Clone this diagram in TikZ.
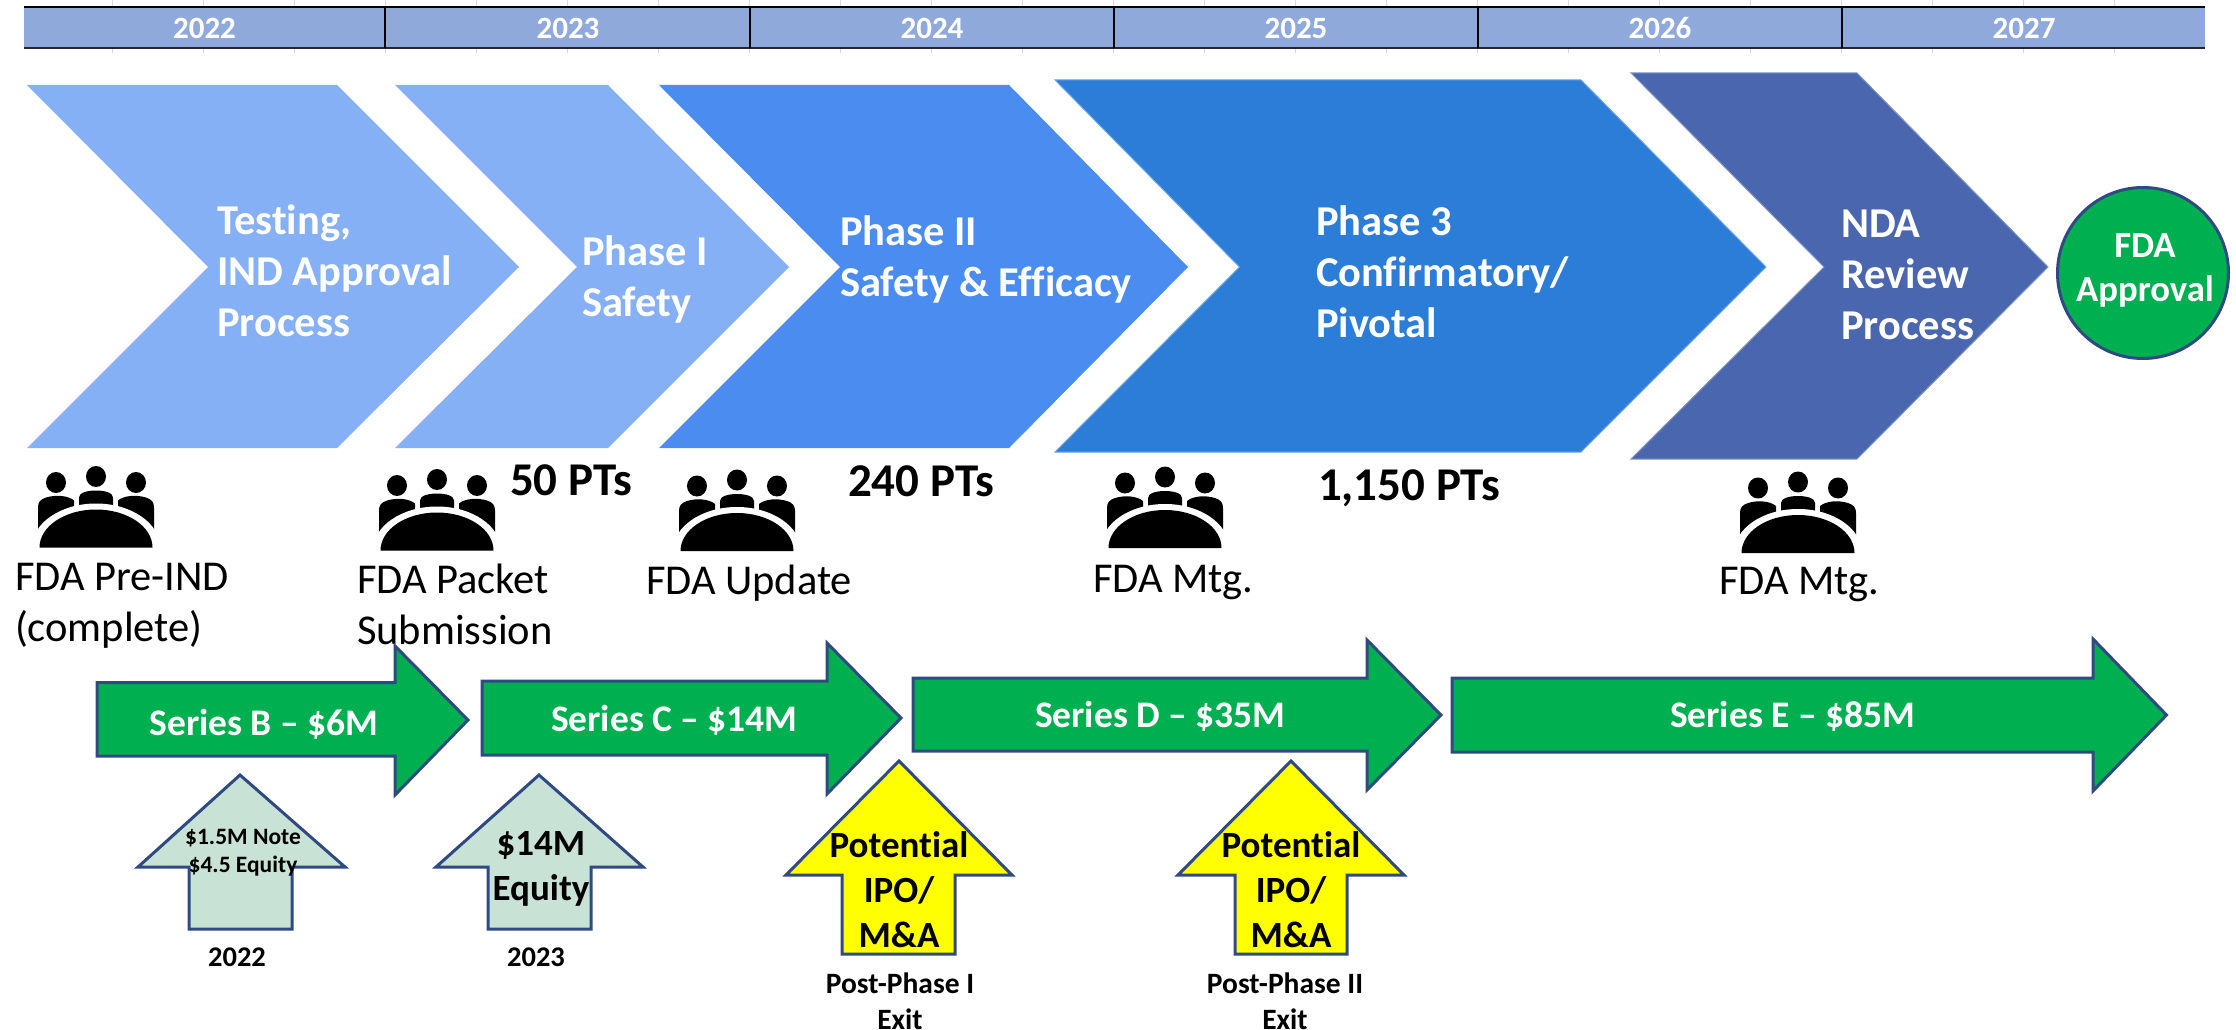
\documentclass[tikz,border=0pt]{standalone}
\usepackage{fontspec}
\usetikzlibrary{shapes.geometric}
\setmainfont[Ligatures=NoCommon]{Carlito}
\definecolor{bandc}{HTML}{8FA9DB}
\definecolor{chA}{HTML}{85B0F5}
\definecolor{chB}{HTML}{4A8CF0}
\definecolor{chC}{HTML}{2B7DD8}
\definecolor{chD}{HTML}{4A66AE}
\definecolor{grn}{HTML}{00B050}
\definecolor{edge}{HTML}{2F4A82}
\definecolor{pale}{HTML}{C9E2D6}
\definecolor{tick}{HTML}{D9D9D9}
\definecolor{yel}{HTML}{FFFF00}
\newcommand{\fs}[2]{\fontsize{#1}{#2}\selectfont}
\tikzset{
  every node/.style={inner sep=0pt,outer sep=0pt},
  yearlbl/.style={anchor=base,text=white,font=\bfseries\fs{31}{36}},
  chevlbl/.style={anchor=base west,text=white,align=left,font=\bfseries\fs{42.5}{51}},
  ptslbl/.style={anchor=base west,font=\bfseries\fs{47}{52}},
  fdalbl/.style={anchor=base west,align=left,font=\fs{42.5}{51}},
  serieslbl/.style={anchor=base west,text=white,font=\bfseries\fs{37.5}{44}},
  chevA/.style={fill=chA},
  chevB/.style={fill=chB},
  chevC/.style={fill=chC,draw=chC!70!white,line width=1pt},
  chevD/.style={fill=chD,draw=chD!70!white,line width=1pt},
  fundarrow/.style={fill=grn,draw=edge,line width=3pt,line join=miter},
  palearrow/.style={fill=pale,draw=edge,line width=3pt,line join=miter},
  exitarrow/.style={fill=yel,draw=edge,line width=3pt,line join=miter},
  smalllbl/.style={anchor=base,align=center,font=\bfseries\fs{23.5}{28}},
  biglbl/.style={anchor=base,align=center,font=\bfseries\fs{37}{45}},
  exitlbl/.style={anchor=base,align=center,font=\bfseries\fs{29.5}{35.5}},
  yrlbl/.style={anchor=base,font=\bfseries\fs{28.5}{34}},
  meeting/.pic={
    \fill (0,-71) circle[x radius=10pt,y radius=10.5pt];
    \fill (-40,-65) circle[x radius=10pt,y radius=10.5pt];
    \fill (40,-65) circle[x radius=10pt,y radius=10.5pt];
    \fill (-17,-38) -- (-17,-50) .. controls (-17,-55) and (-8,-57) .. (0,-57) .. controls (8,-57) and (17,-55) .. (17,-50) -- (17,-38) -- cycle;
    \fill (22,-30) -- (22,-47) .. controls (28,-52) and (40,-53) .. (50,-50) .. controls (56,-48) and (58,-45) .. (58,-40) -- (58,-15) -- (30,-15) -- cycle;
    \fill (-22,-30) -- (-22,-47) .. controls (-28,-52) and (-40,-53) .. (-50,-50) .. controls (-56,-48) and (-58,-45) .. (-58,-40) -- (-58,-15) -- (-30,-15) -- cycle;
    \fill[white] (-64,0) arc[start angle=180,end angle=0,x radius=64pt,y radius=44pt] -- cycle;
    \fill (-56.5,0) arc[start angle=180,end angle=0,x radius=56.5pt,y radius=38pt] -- cycle;
  },
}
\begin{document}
\begin{tikzpicture}[x=1pt,y=-1pt]
\useasboundingbox (0,0) rectangle (2236,1030);
% gantt band
\foreach \k in {1,...,23}{
  \draw[tick,line width=1pt] ({21+91*\k},0) -- ({21+91*\k},53);
}
\fill[bandc] (24,7) rectangle (2205,48);
\draw[black,line width=2pt] (24,7) -- (2205,7);
\draw[black!85,line width=2pt] (24,48.5) -- (2205,48.5);
\foreach \x in {385,750,1114,1478,1842}{
  \draw[black,line width=1.5pt] (\x,7) -- (\x,48);
}
\node[yearlbl] (y22) at (204.5,39) {2022};
\node[yearlbl] (y23) at (568,39) {2023};
\node[yearlbl] (y24) at (932,39) {2024};
\node[yearlbl] (y25) at (1296,39) {2025};
\node[yearlbl] (y26) at (1660,39) {2026};
\node[yearlbl] (y27) at (2024,39) {2027};
% chevrons
\path[chevA] (27,85) -- (337,85) -- (519,267) -- (337,448) -- (27,448) -- (208,267) -- cycle;
\path[chevA] (395,85) -- (608,85) -- (789,267) -- (608,448) -- (395,448) -- (577,267) -- cycle;
\path[chevB] (659,85) -- (1009,85) -- (1188,267) -- (1009,448) -- (659,448) -- (840,267) -- cycle;
\path[chevC] (1055,80) -- (1581,80) -- (1766,267) -- (1581,452) -- (1055,452) -- (1239.5,267) -- cycle;
\path[chevD] (1631,73) -- (1857,73) -- (2048,267) -- (1857,459) -- (1631,459) -- (1824,267) -- cycle;
\node[chevlbl] (t1) at (217,336) {Testing,\\IND Approval\\Process};
\node[chevlbl] (t2) at (582,316) {Phase I\\Safety};
\node[chevlbl] (t3) at (840,296) {Phase II\\Safety \& Efficacy};
\node[chevlbl] (t4) at (1316,337) {Phase 3\\Confirmatory/\\Pivotal};
\node[chevlbl] (t5) at (1841,339) {NDA\\Review\\Process};
% approval circle
\node[ellipse,fill=grn,draw=edge,line width=3pt,minimum width=171pt,minimum height=171pt] (appr) at (2143,273) {};
\node[anchor=base,align=center,text=white,font=\bfseries\fs{36.7}{44}] (apprt) at (2145,301) {FDA\\Approval};
% patients
\node[ptslbl] (p1) at (510,495) {50 PTs};
\node[ptslbl] (p2) at (848,496) {240 PTs};
\node[ptslbl] (p3) at (1318,500) {1,150 PTs};
% meetings
\pic at (96,547.5) {meeting};
\pic at (437,550.5) {meeting};
\pic at (737,551) {meeting};
\pic at (1165,548) {meeting};
\pic at (1798,553) {meeting};
\node[fdalbl] (f1) at (15,641) {FDA Pre-IND\\(complete)};
\node[fdalbl] (f2) at (357,644) {FDA Packet\\Submission};
\node[fdalbl] (f3) at (646,594) {FDA Update};
\node[fdalbl] (f4) at (1093,592) {FDA Mtg.};
\node[fdalbl] (f5) at (1719,594) {FDA Mtg.};
% funding arrows
\path[fundarrow] (97,682.5) -- (395,682.5) -- (395,646) -- (468,720) -- (395,795) -- (395,756) -- (97,756) -- cycle;
\path[fundarrow] (482,681) -- (827,681) -- (827,643) -- (901,718) -- (827,794) -- (827,755) -- (482,755) -- cycle;
\path[fundarrow] (913,678) -- (1367,678) -- (1367,640) -- (1441,715) -- (1367,790) -- (1367,751) -- (913,751) -- cycle;
\path[fundarrow] (1452,678) -- (2093,678) -- (2093,639) -- (2166.5,715) -- (2093,791) -- (2093,752) -- (1452,752) -- cycle;
\node[serieslbl] (s1) at (149.5,735.5) {Series B – \$6M};
\node[serieslbl] (s2) at (551,731) {Series C – \$14M};
\node[serieslbl] (s3) at (1035,727) {Series D – \$35M};
\node[serieslbl] (s4) at (1670,727.5) {Series E – \$85M};
% raise arrows
\path[palearrow] (240,775) -- (345,867) -- (292,867) -- (292,929) -- (189,929) -- (189,867) -- (138,867) -- cycle;
\path[palearrow] (539,775) -- (643,867) -- (591,867) -- (591,929) -- (488,929) -- (488,867) -- (436,867) -- cycle;
\path[exitarrow] (899,761) -- (1012,875) -- (955,875) -- (955,954) -- (842,954) -- (842,875) -- (786,875) -- cycle;
\path[exitarrow] (1291,761) -- (1404,875) -- (1347,875) -- (1347,954) -- (1235,954) -- (1235,875) -- (1178,875) -- cycle;
\node[smalllbl] (n1) at (243,872) {\$1.5M Note\\\$4.5 Equity};
\node[biglbl] (n2) at (541,900) {\$14M\\Equity};
\node[biglbl] (n3) at (899,947) {Potential\\IPO/\\M\&A};
\node[biglbl] (n4) at (1291,947) {Potential\\IPO/\\M\&A};
\node[yrlbl] (c1) at (237,966) {2022};
\node[yrlbl] (c2) at (536,966) {2023};
\node[exitlbl] (e1) at (900,1029) {Post-Phase I\\Exit};
\node[exitlbl] (e2) at (1285,1029) {Post-Phase II\\Exit};
\end{tikzpicture}
\end{document}
